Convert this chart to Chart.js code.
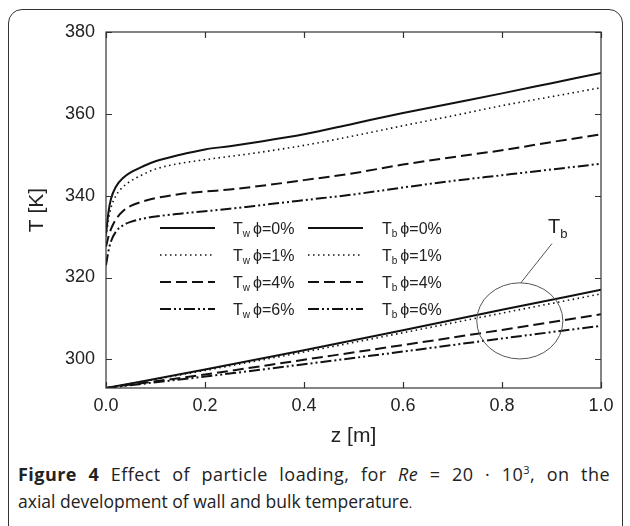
<!DOCTYPE html>
<html>
<head>
<meta charset="utf-8">
<script src="https://cdn.jsdelivr.net/npm/chart.js@4.4.0/dist/chart.umd.min.js"></script>
<style>
  body { margin: 0; background: #fff; }
  #wrap { position: relative; width: 630px; height: 526px; overflow: hidden; background: #fff; }
  #frame { position: absolute; left: 8px; top: 9px; width: 615px; height: 560px; border: 1.5px solid #333; border-radius: 14px; box-sizing: border-box; }
  #box { position: absolute; left: 0; top: 0; width: 630px; height: 460px; }
  .cap { position: absolute; left: 18px; width: 592px; font-family: 'Open Sans', 'Noto Sans', sans-serif; font-size: 17.5px; color: #222; white-space: nowrap; }
  #cap1 { top: 462px; font-size: 18px; letter-spacing: 0.45px; text-align: justify; text-align-last: justify; }
  #cap2 { top: 489px; }
  .cap sup { font-size: 11px; line-height: 0; }
</style>
</head>
<body>
<div id="wrap">
  <div id="frame"></div>
  <div id="box"><canvas id="chart"></canvas></div>
  <div class="cap" id="cap1"><b>Figure 4</b> Effect of particle loading, for <i>Re</i> = 20 · 10<sup>3</sup>, on the</div>
  <div class="cap" id="cap2">axial development of wall and bulk temperature<span style="font-size:13px">.</span></div>
</div>
<script>
// axial position z [m]
const zWall = [0, 0.005, 0.01, 0.02, 0.035, 0.05, 0.075, 0.1, 0.15, 0.2, 0.25, 0.3, 0.4, 0.5, 0.6, 0.7, 0.8, 0.9, 1.0];
const zBulk = [0, 0.2, 0.4, 0.6, 0.8, 1.0];

// wall temperature T_w [K]
const tw0 = [330.5, 336.0, 339.2, 342.2, 344.4, 345.7, 347.2, 348.4, 350.0, 351.3, 352.1, 353.0, 355.0, 357.6, 360.2, 362.6, 365.0, 367.5, 370.0];
const tw1 = [330.0, 334.0, 337.0, 340.0, 342.2, 343.6, 345.2, 346.5, 347.9, 348.8, 349.6, 350.4, 352.3, 354.6, 357.1, 359.5, 362.0, 364.2, 366.4];
const tw4 = [327.5, 330.0, 331.8, 334.2, 336.3, 337.5, 338.6, 339.4, 340.4, 341.0, 341.5, 342.2, 343.8, 345.5, 347.6, 349.4, 351.1, 353.1, 355.0];
const tw6 = [323.0, 326.5, 328.8, 331.2, 332.8, 333.6, 334.4, 334.9, 335.6, 336.2, 336.8, 337.5, 338.9, 340.3, 342.0, 343.6, 345.0, 346.4, 347.8];

// bulk temperature T_b [K]
const tb0 = [293.0, 297.5, 302.2, 307.1, 312.1, 317.0];
const tb1 = [293.0, 297.3, 301.8, 306.5, 311.3, 316.0];
const tb4 = [293.0, 296.3, 299.9, 303.5, 307.2, 311.0];
const tb6 = [293.0, 295.8, 298.8, 301.9, 305.1, 308.2];

const loadings = ['0%', '1%', '4%', '6%'];
const xTicks = [0, 0.2, 0.4, 0.6, 0.8, 1.0];
const yTicks = [300, 320, 340, 360, 380];

const styles = [
  { dash: [], width: 2 },
  { dash: [1.5, 3.5], width: 1.6 },
  { dash: [11, 5], width: 2 },
  { dash: [11, 3, 2, 3, 2, 3], width: 2 }
];

const pts = (xs, ys) => xs.map((v, i) => ({ x: v, y: ys[i] }));
const mk = (label, data, k) => ({
  label: label,
  data: data,
  borderColor: '#111',
  borderWidth: styles[k].width,
  borderDash: styles[k].dash,
  pointRadius: 0,
  fill: false,
  cubicInterpolationMode: 'monotone'
});

const datasets = [
  mk('Tw 0%', pts(zWall, tw0), 0),
  mk('Tw 1%', pts(zWall, tw1), 1),
  mk('Tw 4%', pts(zWall, tw4), 2),
  mk('Tw 6%', pts(zWall, tw6), 3),
  mk('Tb 0%', pts(zBulk, tb0), 0),
  mk('Tb 1%', pts(zBulk, tb1), 1),
  mk('Tb 4%', pts(zBulk, tb4), 2),
  mk('Tb 6%', pts(zBulk, tb6), 3)
];

const axisFont = { family: "'Liberation Sans', Arial, sans-serif", size: 18 };
const titleFont = { family: "'Liberation Sans', Arial, sans-serif", size: 21 };

// frame + inward tick marks on all four sides
const frameTicks = {
  id: 'frameTicks',
  afterDatasetsDraw(chart) {
    const { ctx, chartArea: a, scales: { x, y } } = chart;
    ctx.save();
    ctx.strokeStyle = '#333';
    ctx.lineWidth = 1.2;
    ctx.strokeRect(a.left, a.top, a.right - a.left, a.bottom - a.top);
    ctx.beginPath();
    xTicks.forEach(v => {
      const px = Math.round(x.getPixelForValue(v)) + 0.5;
      ctx.moveTo(px, a.bottom); ctx.lineTo(px, a.bottom - 6);
      ctx.moveTo(px, a.top); ctx.lineTo(px, a.top + 6);
    });
    yTicks.forEach(v => {
      const py = Math.round(y.getPixelForValue(v)) + 0.5;
      ctx.moveTo(a.left, py); ctx.lineTo(a.left + 6, py);
      ctx.moveTo(a.right, py); ctx.lineTo(a.right - 6, py);
    });
    ctx.stroke();
    ctx.restore();
  }
};

// two-column legend inside the plot
const innerLegend = {
  id: 'innerLegend',
  afterDatasetsDraw(chart) {
    const { ctx, chartArea: a } = chart;
    const rows = [196, 223, 250, 277];
    const cols = [{ x0: 54, x1: 109, tx: 127, sub: 'w' }, { x0: 202, x1: 257, tx: 276, sub: 'b' }];
    ctx.save();
    ctx.fillStyle = '#222';
    ctx.textBaseline = 'alphabetic';
    cols.forEach((c, ci) => {
      rows.forEach((r, ri) => {
        const ds = chart.data.datasets[ci * 4 + ri];
        const yy = a.top + r;
        ctx.beginPath();
        ctx.strokeStyle = '#111';
        ctx.lineWidth = ds.borderWidth;
        ctx.setLineDash(ds.borderDash);
        ctx.moveTo(a.left + c.x0, yy);
        ctx.lineTo(a.left + c.x1, yy);
        ctx.stroke();
        ctx.setLineDash([]);
        let tx = a.left + c.tx;
        const base = yy + 5.5;
        ctx.font = "16px 'Liberation Sans', Arial, sans-serif";
        ctx.fillText('T', tx, base);
        tx += ctx.measureText('T').width;
        ctx.font = "10px 'Liberation Sans', Arial, sans-serif";
        ctx.fillText(c.sub, tx, base + 3);
        tx += ctx.measureText(c.sub).width + 3;
        ctx.font = "16px 'Liberation Sans', Arial, sans-serif";
        ctx.fillText('\u03D5=' + loadings[ri], tx, base);
      });
    });
    ctx.restore();
  }
};

// ellipse marking the bulk curves, with pointer and label
const tbNote = {
  id: 'tbNote',
  afterDatasetsDraw(chart) {
    const { ctx, scales: { x, y } } = chart;
    const cx = x.getPixelForValue(0.836), cy = y.getPixelForValue(309.4);
    const rx = x.getPixelForValue(0.836 + 0.087) - cx;
    const ry = cy - y.getPixelForValue(309.4 + 9.3);
    ctx.save();
    ctx.strokeStyle = '#555';
    ctx.lineWidth = 1;
    ctx.beginPath();
    ctx.ellipse(cx, cy, rx, ry, 0, 0, Math.PI * 2);
    ctx.stroke();
    ctx.beginPath();
    ctx.moveTo(cx + 1, cy - ry);
    ctx.lineTo(x.getPixelForValue(0.901), y.getPixelForValue(328.3));
    ctx.stroke();
    ctx.fillStyle = '#222';
    const lx = x.getPixelForValue(0.893), ly = y.getPixelForValue(330.8);
    ctx.font = "20px 'Liberation Sans', Arial, sans-serif";
    ctx.fillText('T', lx, ly);
    const w = ctx.measureText('T').width;
    ctx.font = "13px 'Liberation Sans', Arial, sans-serif";
    ctx.fillText('b', lx + w, ly + 5);
    ctx.restore();
  }
};

new Chart(document.getElementById('chart'), {
  type: 'line',
  data: { datasets: datasets },
  options: {
    responsive: true,
    maintainAspectRatio: false,
    animation: false,
    layout: { padding: { top: 32, right: 29, bottom: 10, left: 0 } },
    plugins: { legend: { display: false }, tooltip: { enabled: false } },
    scales: {
      x: {
        type: 'linear',
        min: 0,
        max: 1,
        afterFit: (s) => { s.height = 62; },
        afterBuildTicks: (s) => { s.ticks = xTicks.map(v => ({ value: v })); },
        grid: { display: false, drawTicks: false },
        border: { display: false },
        ticks: { color: '#222', font: axisFont, padding: 7, maxRotation: 0, callback: (v) => v.toFixed(1) },
        title: { display: true, text: 'z [m]', color: '#222', font: titleFont, padding: { top: 0, bottom: 1 } }
      },
      y: {
        type: 'linear',
        min: 293,
        max: 380,
        afterFit: (s) => { s.width = 106; },
        afterBuildTicks: (s) => { s.ticks = yTicks.map(v => ({ value: v })); },
        grid: { display: false, drawTicks: false },
        border: { display: false },
        ticks: { color: '#222', font: axisFont, padding: 11, callback: (v) => String(v) },
        title: { display: true, text: 'T [K]', color: '#222', font: titleFont, padding: { top: 25, bottom: 0 } }
      }
    }
  },
  plugins: [frameTicks, innerLegend, tbNote]
});
</script>
</body>
</html>
